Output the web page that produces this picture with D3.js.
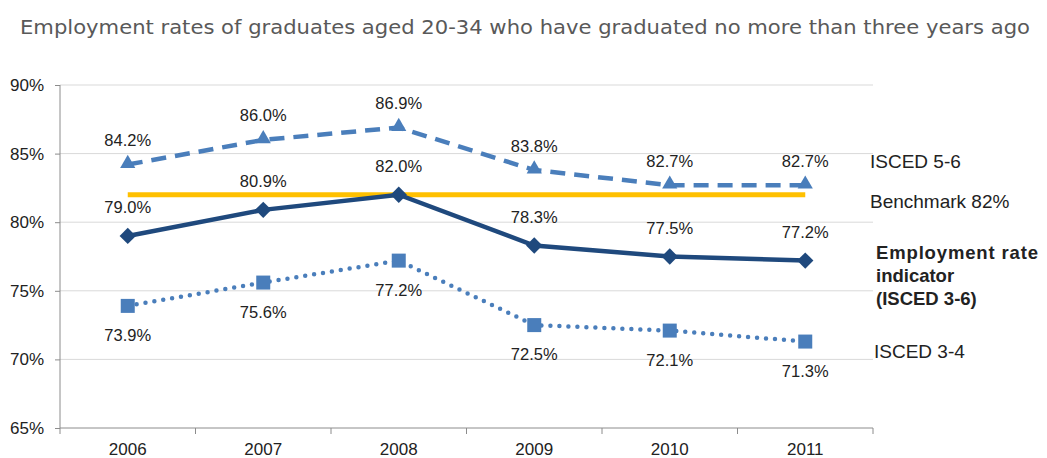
<!DOCTYPE html>
<html lang="en">
<head>
    <meta charset="utf-8" />
    <style>
        body {margin:0; background:#fff;}
        text {font-family: "Liberation Sans", Arial, sans-serif; fill: #222;}
        .title {font-family: "DejaVu Sans", Verdana, sans-serif; fill: #595959; font-size: 19px;}
        .grid line {stroke: #d9d9d9; stroke-width: 1;}
        .axis path, .axis line {stroke: #8c8c8c;}
        .axis text {font-size: 17px; fill: #222; font-family: "Liberation Sans", Arial, sans-serif;}
        .lbl {font-size: 16.5px; text-anchor: middle;}
        .legend {font-size: 19px;}
    </style>
    <script src="https://d3js.org/d3.v7.min.js"></script>
</head>
<body>
    <svg></svg>
</body>
<script>
    var width = 1047,
        height = 458;

    var years = ["2006", "2007", "2008", "2009", "2010", "2011"];
    var isced56 = [84.2, 86.0, 86.9, 83.8, 82.7, 82.7];
    var employment = [79.0, 80.9, 82.0, 78.3, 77.5, 77.2];
    var isced34 = [73.9, 75.6, 77.2, 72.5, 72.1, 71.3];
    var benchmark = 82;
    var yTicks = [65, 70, 75, 80, 85, 90];

    var plotLeft = 60, plotRight = 873, plotTop = 85, plotBottom = 428;

    var x = d3.scaleBand().domain(years).range([plotLeft, plotRight]);
    var y = d3.scaleLinear().domain([65, 90]).range([plotBottom, plotTop]);
    var cx = function(d, i) {return x(years[i]) + x.bandwidth() / 2};

    var svg = d3.select("svg")
        .attr("width", width)
        .attr("height", height)

    svg.append("text").attr("class", "title")
        .attr("x", 20).attr("y", 34)
        .attr("textLength", 1010).attr("lengthAdjust", "spacingAndGlyphs")
        .text("Employment rates of graduates aged 20-34 who have graduated no more than three years ago")

    // gridlines
    svg.append("g").attr("class", "grid").selectAll("line")
        .data(yTicks.slice(1))
      .enter().append("line")
        .attr("x1", plotLeft).attr("x2", plotRight)
        .attr("y1", function(d) {return y(d)})
        .attr("y2", function(d) {return y(d)})

    // y axis
    var yAxis = svg.append("g").attr("class", "axis")
        .attr("transform", "translate(" + plotLeft + ",0)")
        .call(d3.axisLeft(y).tickValues(yTicks).tickSize(5).tickPadding(11)
            .tickFormat(function(d) {return d + "%"}))
    yAxis.select(".domain").attr("d", "M0," + plotTop + "V" + plotBottom)

    // x axis with ticks on category boundaries
    var xAxis = svg.append("g").attr("class", "axis")
        .attr("transform", "translate(0," + plotBottom + ")")
        .call(d3.axisBottom(x).tickSize(0).tickPadding(15))
    xAxis.select(".domain").attr("d", "M" + plotLeft + ",0H" + plotRight)
    xAxis.selectAll(".bound")
        .data(years.concat(["end"]))
      .enter().append("line")
        .attr("class", "bound")
        .attr("x1", function(d, i) {return plotLeft + i * x.step()})
        .attr("x2", function(d, i) {return plotLeft + i * x.step()})
        .attr("y1", 0).attr("y2", 6)

    var line = d3.line().x(cx).y(function(d) {return y(d)});

    // ISCED 3-4 dotted
    svg.append("path").datum(isced34)
        .attr("d", line).attr("fill", "none")
        .attr("stroke", "#4a7ebb").attr("stroke-width", 4.5)
        .attr("stroke-linecap", "round").attr("stroke-dasharray", "0 9")
    svg.append("g").selectAll("rect")
        .data(isced34)
      .enter().append("rect")
        .attr("x", function(d, i) {return cx(d, i) - 7})
        .attr("y", function(d) {return y(d) - 7})
        .attr("width", 14).attr("height", 14)
        .attr("fill", "#4a7ebb")

    // ISCED 5-6 dashed
    svg.append("path").datum(isced56)
        .attr("d", line).attr("fill", "none")
        .attr("stroke", "#4a7ebb").attr("stroke-width", 4.5)
        .attr("stroke-dasharray", "15 9")
    svg.append("g").selectAll("path")
        .data(isced56)
      .enter().append("path")
        .attr("d", d3.symbol().type(d3.symbolTriangle).size(100))
        .attr("transform", function(d, i) {return "translate(" + cx(d, i) + "," + (y(d) - 1) + ")"})
        .attr("fill", "#4a7ebb")

    // benchmark
    svg.append("line")
        .attr("x1", cx(0, 0)).attr("x2", cx(0, years.length - 1))
        .attr("y1", y(benchmark)).attr("y2", y(benchmark))
        .attr("stroke", "#ffc000").attr("stroke-width", 5)

    // employment rate indicator
    svg.append("path").datum(employment)
        .attr("d", line).attr("fill", "none")
        .attr("stroke", "#1f497d").attr("stroke-width", 4.5)
    svg.append("g").selectAll("path")
        .data(employment)
      .enter().append("path")
        .attr("d", d3.symbol().type(d3.symbolDiamond2).size(170))
        .attr("transform", function(d, i) {return "translate(" + cx(d, i) + "," + y(d) + ")"})
        .attr("fill", "#1f497d")

    // data labels
    function labels(data, dy) {
        svg.append("g").selectAll("text")
            .data(data)
          .enter().append("text")
            .attr("class", "lbl")
            .attr("x", cx)
            .attr("y", function(d) {return y(d) + dy})
            .text(function(d) {return d.toFixed(1) + "%"})
    }
    labels(isced56, -18.5)
    labels(employment, -22.5)
    labels(isced34, 35)

    // legend labels
    var legend = svg.append("g").attr("class", "legend")
    legend.append("text").attr("x", 870).attr("y", 168).text("ISCED 5-6")
    legend.append("text").attr("x", 870).attr("y", 208).text("Benchmark 82%")
    legend.append("text").attr("x", 874).attr("y", 358).text("ISCED 3-4")
    var bold = legend.append("text").style("font-weight", "bold").style("font-size", "18.5px")
    bold.append("tspan").attr("x", 876).attr("y", 259).attr("textLength", 162).text("Employment rate")
    bold.append("tspan").attr("x", 876).attr("y", 282).text("indicator")
    bold.append("tspan").attr("x", 876).attr("y", 305).text("(ISCED 3-6)")
</script>
</html>
